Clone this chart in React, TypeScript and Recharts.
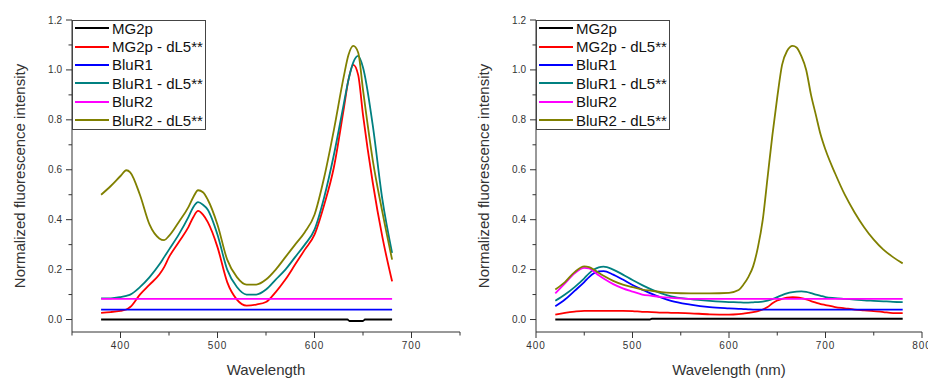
import { LineChart, Line, XAxis, YAxis, Legend } from "recharts";

// ---- left panel: excitation (Wavelength) ----
const LEFT_WL = [
  380, 390, 400, 406, 410, 420, 430, 440, 445, 450, 460, 470, 475, 480, 485, 490, 500, 510, 520,
  530, 540, 550, 560, 570, 580, 590, 600, 610, 620, 630, 635, 640, 645, 650, 660, 670, 680,
];
const LEFT_MG2P_DL5 = [
  0.027, 0.03, 0.035, 0.04, 0.05, 0.1, 0.14, 0.18, 0.21, 0.25, 0.31, 0.37, 0.41, 0.435, 0.42, 0.39,
  0.29, 0.15, 0.08, 0.056, 0.06, 0.07, 0.11, 0.16, 0.22, 0.28, 0.34, 0.46, 0.61, 0.84, 0.96, 1.02,
  0.98, 0.82, 0.55, 0.33, 0.153,
];
const LEFT_BLUR1_DL5 = [
  0.085, 0.085, 0.09, 0.095, 0.1, 0.13, 0.17, 0.22, 0.25, 0.28, 0.34, 0.41, 0.45, 0.47, 0.46, 0.44,
  0.34, 0.2, 0.13, 0.1, 0.1, 0.12, 0.16, 0.2, 0.25, 0.3, 0.36, 0.49, 0.66, 0.86, 0.96, 1.03, 1.056,
  1.01, 0.78, 0.48, 0.267,
];
const LEFT_BLUR2_DL5 = [
  0.5, 0.535, 0.575, 0.598, 0.59, 0.5, 0.38, 0.325, 0.318, 0.335, 0.39, 0.45, 0.49, 0.518, 0.51,
  0.48, 0.38, 0.24, 0.17, 0.14, 0.14, 0.16, 0.2, 0.25, 0.3, 0.35, 0.42, 0.57, 0.76, 0.97, 1.06,
  1.096, 1.07, 0.92, 0.64, 0.43, 0.24,
];
const LEFT_MG2P_WL = [380, 634, 636, 650, 652, 680];
const LEFT_MG2P = [0, 0, -0.006, -0.006, 0, 0];
const LEFT_FLAT_WL = [380, 680];
const LEFT_BLUR1 = [0.04, 0.04];
const LEFT_BLUR2 = [0.083, 0.083];

// ---- right panel: emission (Wavelength (nm)) ----
const RIGHT_WL = [
  420, 430, 440, 450, 455, 460, 465, 470, 480, 490, 500, 510, 520, 530, 540, 560, 580, 600, 610,
  615, 620, 625, 630, 635, 640, 645, 650, 655, 660, 666, 670, 675, 680, 685, 690, 695, 700, 710,
  720, 730, 740, 750, 760, 770, 780,
];
const RIGHT_MG2P_DL5 = [
  0.02, 0.027, 0.032, 0.035, 0.035, 0.035, 0.035, 0.035, 0.035, 0.035, 0.034, 0.031, 0.03, 0.028,
  0.027, 0.025, 0.021, 0.02, 0.022, 0.024, 0.027, 0.03, 0.034, 0.04, 0.05, 0.065, 0.076, 0.083,
  0.088, 0.09, 0.089, 0.086, 0.081, 0.074, 0.068, 0.062, 0.058, 0.05, 0.045, 0.04, 0.037, 0.034,
  0.03, 0.026, 0.026,
];
const RIGHT_BLUR1 = [
  0.053, 0.08, 0.115, 0.15, 0.17, 0.185, 0.193, 0.194, 0.18, 0.16, 0.138, 0.12, 0.103, 0.088,
  0.075, 0.06, 0.05, 0.045, 0.043, 0.042, 0.041, 0.04, 0.04, 0.04, 0.04, 0.04, 0.04, 0.04, 0.04,
  0.04, 0.04, 0.04, 0.04, 0.04, 0.04, 0.04, 0.04, 0.04, 0.04, 0.04, 0.04, 0.04, 0.04, 0.04, 0.04,
];
const RIGHT_BLUR1_DL5 = [
  0.075, 0.1, 0.13, 0.165, 0.185, 0.2, 0.209, 0.212, 0.2, 0.18, 0.158, 0.138, 0.12, 0.105, 0.093,
  0.082, 0.075, 0.07, 0.069, 0.068, 0.068, 0.069, 0.07, 0.072, 0.076, 0.082, 0.09, 0.098, 0.105,
  0.11, 0.112, 0.113, 0.111, 0.106, 0.1, 0.095, 0.09, 0.086, 0.083, 0.08, 0.077, 0.075, 0.073,
  0.071, 0.07,
];
const RIGHT_BLUR2 = [
  0.105, 0.145, 0.185, 0.207, 0.205, 0.192, 0.177, 0.164, 0.142, 0.125, 0.112, 0.1, 0.095, 0.09,
  0.087, 0.083, 0.083, 0.083, 0.083, 0.083, 0.083, 0.083, 0.083, 0.083, 0.083, 0.083, 0.083, 0.083,
  0.083, 0.083, 0.083, 0.083, 0.083, 0.083, 0.083, 0.083, 0.083, 0.083, 0.083, 0.083, 0.083, 0.083,
  0.083, 0.083, 0.083,
];
const RIGHT_BLUR2_DL5 = [
  0.12, 0.15, 0.19, 0.213, 0.21, 0.2, 0.187, 0.175, 0.155, 0.14, 0.13, 0.12, 0.115, 0.11, 0.107,
  0.105, 0.105, 0.107, 0.118, 0.14, 0.17, 0.213, 0.29, 0.4, 0.57, 0.74, 0.89, 1.02, 1.075, 1.096,
  1.09, 1.055, 1.0, 0.9, 0.82, 0.74, 0.68, 0.585, 0.5, 0.43, 0.37, 0.32, 0.28, 0.25, 0.225,
];
const RIGHT_MG2P_WL = [420, 518, 520, 780];
const RIGHT_MG2P = [0, 0, 0.003, 0.003];

const Y_TICKS = [0, 0.1, 0.2, 0.3, 0.4, 0.5, 0.6, 0.7, 0.8, 0.9, 1.0, 1.1, 1.2];
const LEFT_X_TICKS = [350, 400, 450, 500, 550, 600, 650, 700, 750];
const RIGHT_X_TICKS = [400, 450, 500, 550, 600, 650, 700, 750, 800];

const NAMES = ["MG2p", "MG2p - dL5**", "BluR1", "BluR1 - dL5**", "BluR2", "BluR2 - dL5**"];
const COLORS = ["#000000", "#ff0000", "#0000ff", "#008080", "#ff00ff", "#808000"];

const FONT = "'Liberation Sans', Arial, sans-serif";
const TICK_SIZE = 6;
const TICK_MARGIN = 4;
const AXIS_COLOR = "#333";

function pts(xs: number[], ys: number[]) {
  return xs.map((x, i) => ({ wl: x, v: ys[i] }));
}

const LEFT_SERIES = [
  pts(LEFT_MG2P_WL, LEFT_MG2P),
  pts(LEFT_WL, LEFT_MG2P_DL5),
  pts(LEFT_FLAT_WL, LEFT_BLUR1),
  pts(LEFT_WL, LEFT_BLUR1_DL5),
  pts(LEFT_FLAT_WL, LEFT_BLUR2),
  pts(LEFT_WL, LEFT_BLUR2_DL5),
];

const RIGHT_SERIES = [
  pts(RIGHT_MG2P_WL, RIGHT_MG2P),
  pts(RIGHT_WL, RIGHT_MG2P_DL5),
  pts(RIGHT_WL, RIGHT_BLUR1),
  pts(RIGHT_WL, RIGHT_BLUR1_DL5),
  pts(RIGHT_WL, RIGHT_BLUR2),
  pts(RIGHT_WL, RIGHT_BLUR2_DL5),
];

// eslint-disable-next-line @typescript-eslint/no-explicit-any
function YTick({ x, y, payload }: any) {
  const v = payload.value as number;
  const major = Math.round(v * 10) % 2 === 0;
  const axisX = x + TICK_MARGIN + TICK_SIZE;
  return (
    <g>
      <line x1={axisX - (major ? 6 : 3.5)} x2={axisX} y1={y} y2={y} stroke={AXIS_COLOR} />
      {major && (
        <text x={x} y={y} dy="0.35em" textAnchor="end" fontSize={10} fill="#333" fontFamily={FONT}>
          {v.toFixed(1)}
        </text>
      )}
    </g>
  );
}

// eslint-disable-next-line @typescript-eslint/no-explicit-any
function XTick({ x, y, payload }: any) {
  const v = payload.value as number;
  const major = v % 100 === 0;
  const axisY = y - TICK_MARGIN - TICK_SIZE;
  return (
    <g>
      <line x1={x} x2={x} y1={axisY} y2={axisY + (major ? 6 : 3.5)} stroke={AXIS_COLOR} />
      {major && (
        <text
          x={x}
          y={y}
          dy="0.71em"
          textAnchor="middle"
          fontSize={10}
          fill="#333"
          fontFamily={FONT}
          letterSpacing={1}
        >
          {v}
        </text>
      )}
    </g>
  );
}

// legend keeps the plotting order, like the original figure
function BoxLegend() {
  return (
    <div
      style={{
        border: "1px solid #444",
        background: "#fff",
        width: 134,
        height: 110,
        boxSizing: "border-box",
        paddingLeft: 2,
        fontFamily: FONT,
      }}
    >
      {NAMES.map((name, i) => (
        <div
          key={name}
          style={{ display: "flex", alignItems: "center", height: 18.4, marginTop: i === 0 ? -2 : 0 }}
        >
          <span style={{ display: "inline-block", width: 34, height: 2, background: COLORS[i], marginRight: 3 }} />
          <span style={{ fontSize: 15, lineHeight: 1, color: "#111" }}>{name}</span>
        </div>
      ))}
    </div>
  );
}

interface PanelProps {
  width: number;
  marginRight: number;
  xDomain: [number, number];
  xTicks: number[];
  xLabel: string;
  series: { wl: number; v: number }[][];
}

function Panel({ width, marginRight, xDomain, xTicks, xLabel, series }: PanelProps) {
  return (
    <LineChart width={width} height={379} margin={{ top: 20, right: marginRight, bottom: 0, left: 22 }}>
      <XAxis
        dataKey="wl"
        type="number"
        domain={xDomain}
        ticks={xTicks}
        interval={0}
        allowDataOverflow
        height={47}
        tickSize={TICK_SIZE}
        tickMargin={TICK_MARGIN}
        tickLine={false}
        tick={<XTick />}
        axisLine={{ stroke: AXIS_COLOR }}
        label={{
          value: xLabel,
          position: "insideBottom",
          offset: 4,
          style: { fontSize: 15, fill: "#333", fontFamily: FONT },
        }}
      />
      <YAxis
        type="number"
        domain={[-0.05, 1.2]}
        ticks={Y_TICKS}
        interval={0}
        allowDataOverflow
        width={50}
        tickSize={TICK_SIZE}
        tickMargin={TICK_MARGIN}
        tickLine={false}
        tick={<YTick />}
        axisLine={{ stroke: AXIS_COLOR }}
        label={{
          value: "Normalized fluorescence intensity",
          angle: -90,
          position: "insideLeft",
          offset: -2,
          style: { fontSize: 15, fill: "#333", fontFamily: FONT, textAnchor: "middle" },
        }}
      />
      <Legend
        content={<BoxLegend />}
        layout="vertical"
        align="center"
        verticalAlign="middle"
        wrapperStyle={{ left: 72, top: 20, width: "auto" }}
      />
      {series.map((data, i) => (
        <Line
          key={NAMES[i]}
          data={data}
          dataKey="v"
          name={NAMES[i]}
          type="monotone"
          stroke={COLORS[i]}
          strokeWidth={1.8}
          dot={false}
          activeDot={false}
          isAnimationActive={false}
        />
      ))}
    </LineChart>
  );
}

export default function App() {
  return (
    <div style={{ position: "absolute", left: 0, top: 0, width: 928, height: 379, background: "#fff", overflow: "hidden" }}>
      <div style={{ position: "absolute", left: 0, top: 0 }}>
        <Panel
          width={470}
          marginRight={10}
          xDomain={[350, 750]}
          xTicks={LEFT_X_TICKS}
          xLabel="Wavelength"
          series={LEFT_SERIES}
        />
      </div>
      <div style={{ position: "absolute", left: 464, top: 0 }}>
        <Panel
          width={464}
          marginRight={6}
          xDomain={[400, 800]}
          xTicks={RIGHT_X_TICKS}
          xLabel="Wavelength (nm)"
          series={RIGHT_SERIES}
        />
      </div>
    </div>
  );
}
